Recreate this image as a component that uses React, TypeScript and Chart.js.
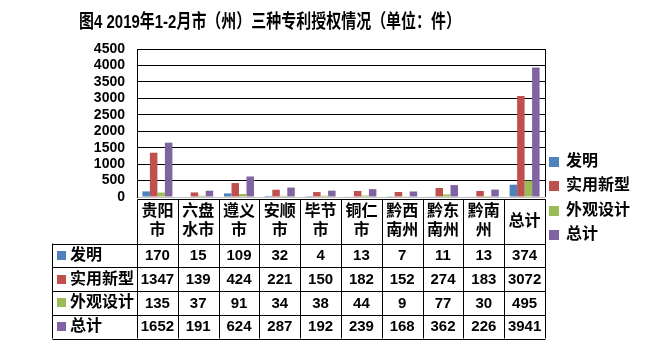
import React, { useEffect, useRef } from "react";
import { Chart, registerables } from "chart.js";

Chart.register(...registerables);

const titleText = "图4 2019年1-2月市（州）三种专利授权情况（单位：件）";
const categories = ["贵阳市", "六盘水市", "遵义市", "安顺市", "毕节市", "铜仁市", "黔西南州", "黔东南州", "黔南州", "总计"];
const headerLines = [["贵阳", "市"], ["六盘", "水市"], ["遵义", "市"], ["安顺", "市"], ["毕节", "市"], ["铜仁", "市"], ["黔西", "南州"], ["黔东", "南州"], ["黔南", "州"], ["总计"]];
const seriesNames = ["发明", "实用新型", "外观设计", "总计"];
const invention = [170, 15, 109, 32, 4, 13, 7, 11, 13, 374];
const utilityModel = [1347, 139, 424, 221, 150, 182, 152, 274, 183, 3072];
const design = [135, 37, 91, 34, 38, 44, 9, 77, 30, 495];
const total = [1652, 191, 624, 287, 192, 239, 168, 362, 226, 3941];
const seriesColors = ["#4F81BD", "#C0504D", "#9BBB59", "#8064A2"];
const yMin = 0;
const yMax = 4500;
const yStep = 500;

const CJK = "'Liberation Sans', 'Noto Sans CJK SC', sans-serif";

export default function App() {
  const ref = useRef<HTMLCanvasElement>(null);

  useEffect(() => {
    const seriesData = [invention, utilityModel, design, total];
    const decor = {
      id: "decor",
      afterDraw(chart: any) {
        const ctx = chart.ctx as CanvasRenderingContext2D;
        const area = chart.chartArea;
        const xs = chart.scales.x;
        const n = categories.length;
        const colW = (area.right - area.left) / n;
        const edge = (i: number) => Math.round(xs.getPixelForValue(i) - colW / 2) + 0.5;
        const rightEdge = Math.round(xs.getPixelForValue(n - 1) + colW / 2) + 0.5;
        const px = (v: number) => Math.round(v) + 0.5;
        ctx.save();

        // title
        ctx.fillStyle = "#000";
        ctx.font = `bold 19px ${CJK}`;
        ctx.textAlign = "left";
        ctx.textBaseline = "middle";
        const tw = ctx.measureText(titleText).width;
        const targetW = 382;
        ctx.save();
        ctx.translate(79, 23);
        ctx.scale(targetW / tw, 1);
        ctx.fillText(titleText, 0, 0);
        ctx.restore();

        // right border of plot
        ctx.strokeStyle = "#000";
        ctx.lineWidth = 1;
        ctx.beginPath();
        ctx.moveTo(px(area.right), area.top);
        ctx.lineTo(px(area.right), area.bottom);
        ctx.stroke();

        // table
        const tableLeft = 52.5;
        const headTop = 199.5;
        const headBottom = 243.5;
        const tableBottom = 338.5;
        const rowH = (tableBottom - headBottom) / seriesNames.length;
        ctx.beginPath();
        ctx.moveTo(edge(0), headTop);
        ctx.lineTo(rightEdge, headTop);
        for (let r = 0; r <= seriesNames.length; r++) {
          const y = px(headBottom + r * rowH);
          ctx.moveTo(tableLeft, y);
          ctx.lineTo(rightEdge, y);
        }
        ctx.moveTo(tableLeft, headBottom);
        ctx.lineTo(tableLeft, tableBottom);
        for (let i = 0; i < n; i++) {
          ctx.moveTo(edge(i), headTop);
          ctx.lineTo(edge(i), tableBottom);
        }
        ctx.moveTo(rightEdge, headTop);
        ctx.lineTo(rightEdge, tableBottom);
        ctx.stroke();

        // header text
        ctx.font = `bold 16px ${CJK}`;
        ctx.textAlign = "center";
        ctx.textBaseline = "middle";
        for (let i = 0; i < n; i++) {
          const cx = xs.getPixelForValue(i);
          const lines = headerLines[i];
          if (lines.length === 1) {
            ctx.fillText(lines[0], cx, 222);
          } else {
            ctx.fillText(lines[0], cx, 212);
            ctx.fillText(lines[1], cx, 231);
          }
        }

        // rows
        for (let r = 0; r < seriesNames.length; r++) {
          const cy = headBottom + r * rowH + rowH / 2;
          ctx.fillStyle = seriesColors[r];
          ctx.fillRect(57, Math.round(cy - 4.5), 9, 9);
          ctx.fillStyle = "#000";
          ctx.font = `bold 16px ${CJK}`;
          ctx.textAlign = "left";
          ctx.fillText(seriesNames[r], 70, cy);
          ctx.font = "bold 15px 'Liberation Sans', Arial, sans-serif";
          ctx.textAlign = "center";
          for (let i = 0; i < n; i++) {
            ctx.fillText(String(seriesData[r][i]), xs.getPixelForValue(i), cy + 0.5);
          }
        }

        // legend
        const legendY = [161.5, 186, 210.5, 235];
        for (let r = 0; r < seriesNames.length; r++) {
          ctx.fillStyle = seriesColors[r];
          ctx.fillRect(549, Math.round(legendY[r] - 5), 10, 10);
          ctx.fillStyle = "#000";
          ctx.font = `bold 16px ${CJK}`;
          ctx.textAlign = "left";
          ctx.fillText(seriesNames[r], 566, legendY[r]);
        }
        ctx.restore();
      },
    };

    const chart = new Chart(ref.current as HTMLCanvasElement, {
      type: "bar",
      data: {
        labels: categories,
        datasets: seriesNames.map((name, i) => ({
          label: name,
          data: seriesData[i],
          backgroundColor: seriesColors[i],
          borderWidth: 0,
          categoryPercentage: 0.735,
          barPercentage: 1,
        })),
      },
      options: {
        responsive: false,
        animation: false,
        devicePixelRatio: 1,
        layout: { padding: { top: 49, right: 103, bottom: 154, left: 0 } },
        plugins: {
          legend: { display: false },
          title: { display: false },
          tooltip: { enabled: false },
        },
        scales: {
          x: {
            display: false,
          },
          y: {
            min: yMin,
            max: yMax,
            afterFit: (scale: any) => {
              scale.width = 137;
            },
            ticks: {
              stepSize: yStep,
              autoSkip: false,
              padding: 12,
              color: "#000",
              font: { family: "'Liberation Sans', Arial, sans-serif", size: 14, weight: "bold", lineHeight: 1 },
              callback: (v: any) => String(v),
            },
            grid: {
              drawTicks: false,
              color: (c: any) => (c.tick && c.tick.value === 0 ? "#BFBFBF" : "#000"),
              lineWidth: 1,
            },
            border: { display: true, color: "#000", width: 1 },
          },
        },
      },
      plugins: [decor],
    } as any);
    return () => chart.destroy();
  }, []);

  return (
    <div style={{ position: "absolute", left: 0, top: 0, width: 648, height: 351, background: "#fff" }}>
      <canvas ref={ref} width={648} height={351} style={{ display: "block", width: 648, height: 351 }} />
    </div>
  );
}
